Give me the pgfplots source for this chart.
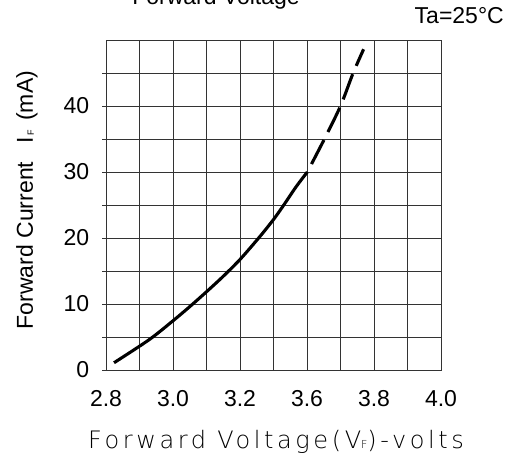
\documentclass[border=0pt]{standalone}
\usepackage{pgfplots}
\pgfplotsset{compat=1.18}
\usepackage{fontspec}
\setmainfont{Liberation Sans}
\newfontfamily\cadfont{DejaVu Sans ExtraLight}[LetterSpace=15]
\begin{document}
\fontsize{23bp}{27bp}\selectfont
\begin{tikzpicture}
\begin{axis}[
  at={(106bp,88bp)}, anchor=south west,
  width=335bp, height=330bp, scale only axis,
  xmin=2.8, xmax=3.8, ymin=0, ymax=50,
  xtick={2.8,3.0,3.2,3.4,3.6,3.8},
  xticklabels={\raisebox{-3bp}{2.8},3.0,3.2,3.6,3.8,4.0},
  minor xtick={2.9,3.1,3.3,3.5,3.7},
  ytick={0,10,20,30,40},
  minor ytick={5,15,25,35,45},
  grid=both,
  major grid style={draw=black!80, line width=0.9bp},
  minor grid style={draw=black!80, line width=0.9bp},
  axis line style={draw=black!80, line width=1bp},
  tick pos=left,
  xtick align=inside,
  ytick align=outside,
  major tick length=4bp, minor tick length=4bp,
  tick style={draw=black!80, line width=0.9bp},
  /pgf/number format/assume math mode=true,
  xticklabel style={font=\fontsize{23bp}{27bp}\selectfont, yshift=-13bp},
  yticklabel style={font=\fontsize{23bp}{27bp}\selectfont, xshift=-5bp},
]
\addplot[black, line width=3.1bp, smooth] coordinates {
  (2.824,1.1) (2.929,4.6) (3.001,7.5) (3.050,9.6) (3.101,11.9)
  (3.150,14.2) (3.201,16.8) (3.259,20.2) (3.300,22.8) (3.328,24.8)
  (3.368,27.8) (3.401,30.0)
};
\addplot[black, line width=3.1bp, smooth, dash pattern=on 27bp off 9bp, dash phase=27bp] coordinates {
  (3.401,30.0) (3.452,35.0) (3.500,40.0) (3.537,44.9) (3.569,48.6)
};
\end{axis}
\node[anchor=base] at (216bp,453bp) {Forward Voltage};
\node[anchor=base east, inner sep=0pt] at (504bp,434bp) {Ta=25\textdegree C};
\node[rotate=90, anchor=center] at (27bp,258bp) {Forward Current\hspace{0.8em}I\raisebox{-1bp}{\fontsize{9bp}{9bp}\selectfont\,F}\hspace{0.4em}(mA)};
\node[anchor=base] at (276bp,10bp) {\fontsize{24bp}{28bp}\cadfont Forward Voltage(V{\fontsize{11bp}{11bp}\selectfont F})-volts};
\pgfresetboundingbox
\useasboundingbox (0,0) rectangle (509bp,458bp);
\end{tikzpicture}
\end{document}
